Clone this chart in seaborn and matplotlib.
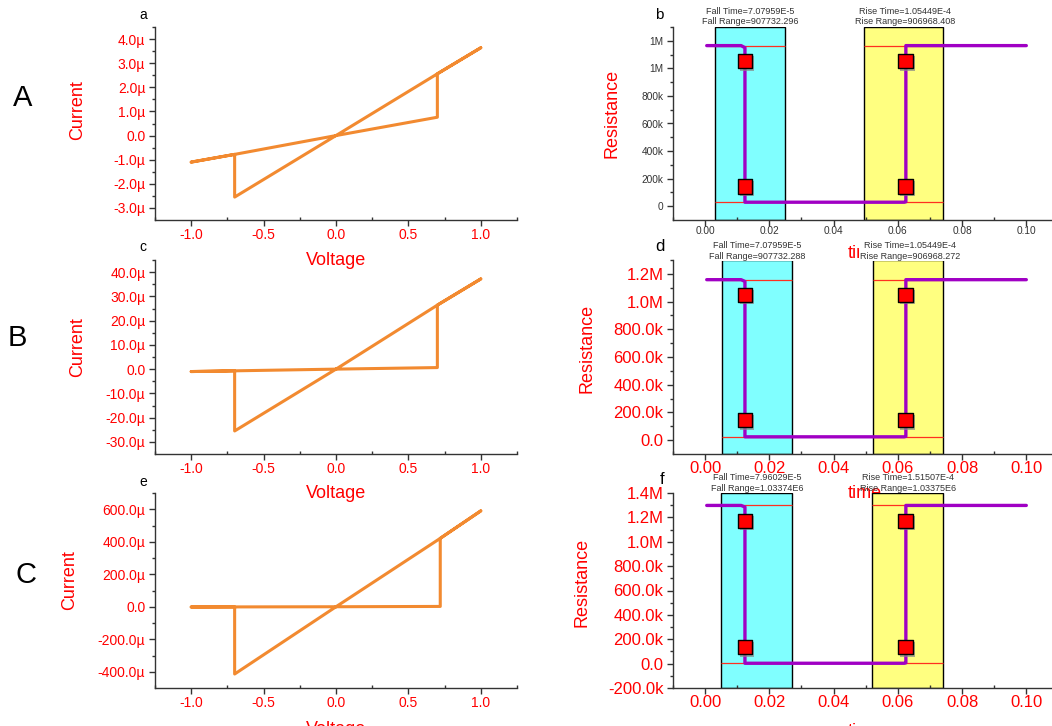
import numpy as np
import pandas as pd
import matplotlib
matplotlib.use("Agg")
import matplotlib.pyplot as plt
import matplotlib.patheffects as pe
from matplotlib.ticker import FixedLocator
import seaborn as sns

# ---- I-V sweeps (voltage in V, current in uA) ----
voltage_ac = [0.0, 0.7, 1.0, 0.7, 0.7, 0.0, -0.7, -1.0, -0.7, -0.7, 0.0]
current_a = [0.0, 2.56, 3.64, 2.56, 0.76, 0.0, -0.78, -1.10, -0.78, -2.55, 0.0]
current_c = [0.0, 26.4, 37.2, 26.4, 0.64, 0.0, -0.7, -1.0, -0.7, -25.5, 0.0]
voltage_e = [0.0, 0.72, 1.0, 0.72, 0.72, 0.0, -0.7, -1.0, -0.7, -0.7, 0.0]
current_e = [0.0, 421.0, 590.0, 421.0, 2.0, 0.0, -1.0, -1.5, -1.0, -414.0, 0.0]

iv_xticks = [-1.0, -0.5, 0.0, 0.5, 1.0]
iv_xticklabels = ["-1.0", "-0.5", "0.0", "0.5", "1.0"]
iv_xminor = [-1.25, -0.75, -0.25, 0.25, 0.75, 1.25]

yticks_a = [-3, -2, -1, 0, 1, 2, 3, 4]
ylabels_a = ["-3.0µ", "-2.0µ", "-1.0µ", "0.0", "1.0µ", "2.0µ", "3.0µ", "4.0µ"]
yticks_c = [-30, -20, -10, 0, 10, 20, 30, 40]
ylabels_c = ["-30.0µ", "-20.0µ", "-10.0µ", "0.0", "10.0µ", "20.0µ", "30.0µ", "40.0µ"]
yticks_e = [-400, -200, 0, 200, 400, 600]
ylabels_e = ["-400.0µ", "-200.0µ", "0.0", "200.0µ", "400.0µ", "600.0µ"]

# ---- resistance vs time (s, ohm) ----
time_step = [0.0005, 0.0112, 0.0124, 0.0124, 0.0620, 0.0625, 0.0625, 0.1]
res_b = [1.165e6, 1.165e6, 1.150e6, 0.029e6, 0.029e6, 0.032e6, 1.165e6, 1.165e6]
res_d = [1.158e6, 1.158e6, 1.145e6, 0.024e6, 0.024e6, 0.027e6, 1.158e6, 1.158e6]
res_f = [1.298e6, 1.298e6, 1.285e6, 0.003e6, 0.003e6, 0.006e6, 1.298e6, 1.298e6]

high_b, low_b = 1.165e6, 0.029e6
high_d, low_d = 1.158e6, 0.024e6
high_f, low_f = 1.298e6, 0.003e6

fall_span_b, rise_span_b = (0.0031, 0.0249), (0.0496, 0.0741)
fall_span_d, rise_span_d = (0.0053, 0.0269), (0.0524, 0.0742)
fall_span_f, rise_span_f = (0.0050, 0.0269), (0.0520, 0.0742)

mark_x = [0.0124, 0.0124, 0.0623, 0.0623]
mark_b = [1.052e6, 0.144e6, 1.052e6, 0.144e6]
mark_d = [1.048e6, 0.144e6, 1.048e6, 0.144e6]
mark_f = [1.172e6, 0.135e6, 1.172e6, 0.135e6]

t_xticks = [0.0, 0.02, 0.04, 0.06, 0.08, 0.10]
t_xticklabels = ["0.00", "0.02", "0.04", "0.06", "0.08", "0.10"]
t_xminor = [-0.01, 0.01, 0.03, 0.05, 0.07, 0.09]

yticks_b = [0, 0.2e6, 0.4e6, 0.6e6, 0.8e6, 1.0e6, 1.2e6]
ylabels_b = ["0", "200k", "400k", "600k", "800k", "1M", "1M"]
yticks_d = [0, 0.2e6, 0.4e6, 0.6e6, 0.8e6, 1.0e6, 1.2e6]
ylabels_d = ["0.0", "200.0k", "400.0k", "600.0k", "800.0k", "1.0M", "1.2M"]
yticks_f = [-0.2e6, 0, 0.2e6, 0.4e6, 0.6e6, 0.8e6, 1.0e6, 1.2e6, 1.4e6]
ylabels_f = ["-200.0k", "0.0", "200.0k", "400.0k", "600.0k", "800.0k", "1.0M", "1.2M", "1.4M"]

fall_text_b = "Fall Time=7.07959E-5\nFall Range=907732.296"
rise_text_b = "Rise Time=1.05449E-4\nRise Range=906968.408"
fall_text_d = "Fall Time=7.07959E-5\nFall Range=907732.288"
rise_text_d = "Rise Time=1.05449E-4\nRise Range=906968.272"
fall_text_f = "Fall Time=7.96029E-5\nFall Range=1.03374E6"
rise_text_f = "Rise Time=1.51507E-4\nRise Range=1.03375E6"

sns.set_style("white")
plt.rcParams["font.family"] = ["Liberation Sans", "DejaVu Sans"]

W, H = 1052, 726
ORANGE = "#F28A30"
PURPLE = "#A000C4"
RED = "#FF0000"
SPINE = "#333333"


def fx(px):
    return px / W


def fy(py):
    return 1 - py / H


fig = plt.figure(figsize=(10.52, 7.26), dpi=100)


def add_axes(left, top, right, bottom):
    return fig.add_axes([fx(left), fy(bottom), fx(right) - fx(left), (bottom - top) / H])


def style_axes(ax, xticks, xlabels, xminor, yticks, ylabels, label_color, xsize, ysize, xpad):
    sns.despine(ax=ax)
    for s in ["left", "bottom"]:
        ax.spines[s].set_color(SPINE)
        ax.spines[s].set_linewidth(1.0)
    ax.set_xticks(xticks)
    ax.set_xticklabels(xlabels, fontsize=xsize, color=label_color)
    ax.set_yticks(yticks)
    ax.set_yticklabels(ylabels, fontsize=ysize, color=label_color)
    ax.xaxis.set_minor_locator(FixedLocator(xminor))
    ymid = [(a + b) / 2 for a, b in zip(yticks[:-1], yticks[1:])]
    ymid.append(yticks[-1] + (yticks[1] - yticks[0]) / 2)
    ax.yaxis.set_minor_locator(FixedLocator(ymid))
    ax.tick_params(axis="both", which="major", direction="out", length=4, width=1,
                   color=SPINE, left=True, bottom=True)
    ax.tick_params(axis="x", which="major", pad=xpad)
    ax.tick_params(axis="y", which="major", pad=3)
    ax.tick_params(axis="x", which="minor", direction="in", length=2.5, width=1,
                   color=SPINE, bottom=True)
    ax.tick_params(axis="y", which="minor", direction="out", length=2, width=1,
                   color=SPINE, left=True)
    ax.set_xlabel("")
    ax.set_ylabel("")
    ax.patch.set_alpha(0)


def draw_iv(ax, v, i, ylim, yticks, ylabels):
    df = pd.DataFrame({"Voltage": v, "Current": i})
    sns.lineplot(data=df, x="Voltage", y="Current", sort=False, estimator=None,
                 color=ORANGE, lw=2.2, ax=ax)
    ax.set_xlim(-1.25, 1.25)
    ax.set_ylim(*ylim)
    style_axes(ax, iv_xticks, iv_xticklabels, iv_xminor, yticks, ylabels, RED, 10, 10, 2)


def draw_res(ax, res, high, low, fall_span, rise_span, marks, ylim, yticks, ylabels,
             label_color, xsize, ysize, xpad):
    for span, face in [(fall_span, "#80FFFF"), (rise_span, "#FFFF80")]:
        ax.axvspan(span[0], span[1], facecolor=face, edgecolor="black", lw=1.0, zorder=0)
        ax.hlines([high, low], span[0], span[1], color="#FF3020", lw=0.9, zorder=1)
    df = pd.DataFrame({"time": time_step, "Resistance": res})
    sns.lineplot(data=df, x="time", y="Resistance", sort=False, estimator=None,
                 color=PURPLE, lw=2.4, ax=ax, zorder=2)
    sc = sns.scatterplot(x=mark_x, y=marks, marker="s", s=110, color=RED,
                         edgecolor="black", linewidth=1.0, ax=ax, zorder=4)
    sc.collections[-1].set_path_effects([
        pe.SimplePatchShadow(offset=(1.5, -1.5), shadow_rgbFace="#888888", alpha=0.7),
        pe.Normal()])
    ax.set_xlim(-0.01, 0.108)
    ax.set_ylim(*ylim)
    style_axes(ax, t_xticks, t_xticklabels, t_xminor, yticks, ylabels, label_color,
               xsize, ysize, xpad)


def annotate(ax, text, xc, ytop, bg=False):
    kw = dict(transform=fig.transFigure, ha="center", va="top", fontsize=6.5,
              color="#333333", linespacing=1.25, clip_on=False, zorder=10)
    if bg:
        kw["bbox"] = dict(facecolor="white", edgecolor="none", pad=0.5)
    ax.text(fx(xc), fy(ytop), text, **kw)


# ---- left column: I-V ----
ax_a = add_axes(155, 27, 517, 220)
draw_iv(ax_a, voltage_ac, current_a, (-3.5, 4.5), yticks_a, ylabels_a)
ax_c = add_axes(155, 260, 517, 454)
draw_iv(ax_c, voltage_ac, current_c, (-35, 45), yticks_c, ylabels_c)
ax_e = add_axes(155, 493, 517, 688)
draw_iv(ax_e, voltage_e, current_e, (-500, 700), yticks_e, ylabels_e)

for ax, ylab_x, ylab_y, xlab_y in [(ax_a, 78, 110, 260), (ax_c, 78, 347, 493),
                                   (ax_e, 70, 580, 729)]:
    ax.text(fx(ylab_x), fy(ylab_y), "Current", transform=fig.transFigure, rotation=90,
            ha="center", va="center", fontsize=13, color=RED, clip_on=False)
    ax.text(fx(336), fy(xlab_y), "Voltage", transform=fig.transFigure,
            ha="center", va="center", fontsize=13, color=RED, clip_on=False)

# ---- right column: resistance vs time ----
ax_b = add_axes(673, 27, 1052, 220)
draw_res(ax_b, res_b, high_b, low_b, fall_span_b, rise_span_b, mark_b,
         (-0.1e6, 1.3e6), yticks_b, ylabels_b, "#333333", 7.3, 7.3, 0.5)
ax_b.text(fx(612), fy(113), "Resistance", transform=fig.transFigure, rotation=90,
          ha="center", va="center", fontsize=13, color=RED, clip_on=False)
ax_b.text(fx(865), fy(253), "time", transform=fig.transFigure,
          ha="center", va="center", fontsize=13, color=RED, clip_on=False)
annotate(ax_b, fall_text_b, 750, 6.5)
annotate(ax_b, rise_text_b, 905, 6.5)

ax_d = add_axes(673, 260, 1052, 454)
draw_res(ax_d, res_d, high_d, low_d, fall_span_d, rise_span_d, mark_d,
         (-0.1e6, 1.3e6), yticks_d, ylabels_d, RED, 12, 12, 1)
ax_d.text(fx(587), fy(348), "Resistance", transform=fig.transFigure, rotation=90,
          ha="center", va="center", fontsize=13, color=RED, clip_on=False)
ax_d.text(fx(865), fy(494), "time", transform=fig.transFigure,
          ha="center", va="center", fontsize=13, color=RED, clip_on=False)
annotate(ax_d, fall_text_d, 757, 241, bg=True)
annotate(ax_d, rise_text_d, 910, 241, bg=True)

ax_f = add_axes(673, 493, 1052, 688)
draw_res(ax_f, res_f, high_f, low_f, fall_span_f, rise_span_f, mark_f,
         (-0.2e6, 1.4e6), yticks_f, ylabels_f, RED, 12, 12, 1)
ax_f.text(fx(582), fy(582), "Resistance", transform=fig.transFigure, rotation=90,
          ha="center", va="center", fontsize=13, color=RED, clip_on=False)
ax_f.text(fx(865), fy(731), "time", transform=fig.transFigure,
          ha="center", va="center", fontsize=13, color=RED, clip_on=False)
annotate(ax_f, fall_text_f, 757, 473)
annotate(ax_f, rise_text_f, 908, 473)

# ---- panel letters ----
for letter, x, y, size in [("a", 143, 15, 10), ("c", 143, 247, 10), ("e", 143, 482, 10),
                           ("b", 659, 15, 11), ("d", 660, 247, 12), ("f", 662, 480, 12)]:
    fig.text(fx(x), fy(y), letter, ha="center", va="center", fontsize=size, color="black")
for letter, x, y in [("A", 23, 98), ("B", 17, 338), ("C", 26, 575)]:
    fig.text(fx(x), fy(y), letter, ha="center", va="center", fontsize=21, color="black")

fig.savefig("out.png", dpi=100)
